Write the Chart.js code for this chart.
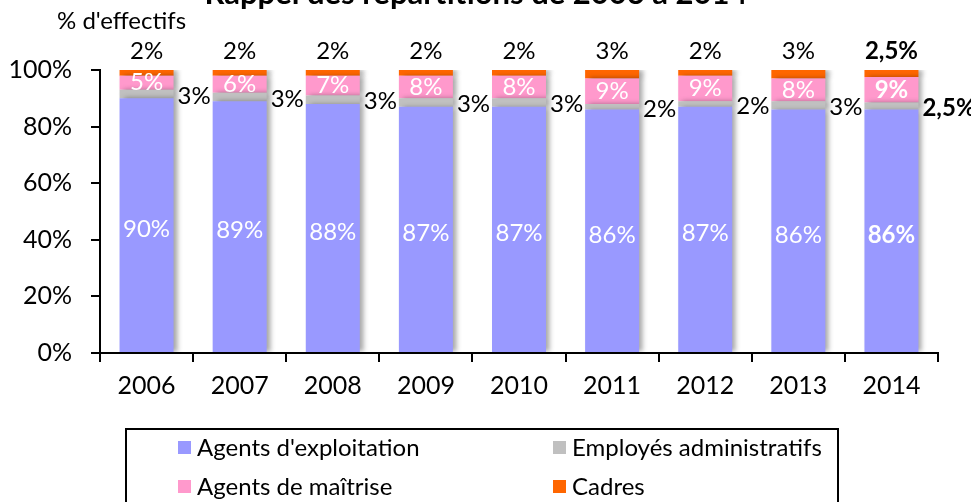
<!DOCTYPE html>
<html>
<head>
<meta charset="utf-8">
<script src="https://cdn.jsdelivr.net/npm/chart.js@4/dist/chart.umd.min.js"></script>
<style>
  body { margin: 0; background: #fff; }
  #wrap { width: 971px; height: 502px; position: relative; }
</style>
</head>
<body>
<div id="wrap"><canvas id="chart" width="971" height="502"></canvas></div>
<script>
// chart values (in %)
const years = ["2006", "2007", "2008", "2009", "2010", "2011", "2012", "2013", "2014"];
const agentsExploitation = [90, 89, 88, 87, 87, 86, 87, 86, 86];
const employesAdmin = [3, 3, 3, 3, 3, 2, 2, 3, 2.5];
const agentsMaitrise = [5, 6, 7, 8, 8, 9, 9, 8, 9];
const cadres = [2, 2, 2, 2, 2, 3, 2, 3, 2.5];
const yTicks = [0, 20, 40, 60, 80, 100];

const FONT = "Lato, 'Open Sans', sans-serif";

const fmt = (v) => String(v).replace(".", ",") + "%";

// soft shadow on the right side of the bars
const shadowPlugin = {
  id: "barShadow",
  beforeDatasetsDraw(chart) {
    const ctx = chart.ctx;
    ctx.save();
    ctx.shadowColor = "rgba(0,0,0,0.35)";
    ctx.shadowBlur = 5;
    ctx.shadowOffsetX = 4;
    ctx.shadowOffsetY = 0;
  },
  afterDatasetsDraw(chart) {
    chart.ctx.restore();
  },
};

// value labels, title, legend box
const decoPlugin = {
  id: "deco",
  afterDraw(chart) {
    const ctx = chart.ctx;
    const last = years.length - 1;
    ctx.save();
    ctx.textBaseline = "middle";

    chart.data.datasets.forEach((ds, di) => {
      const meta = chart.getDatasetMeta(di);
      meta.data.forEach((bar, i) => {
        const w = i === last ? "bold " : "";
        const txt = fmt(ds.data[i]);
        const top = bar.y, bottom = bar.base;
        const mid = (top + bottom) / 2;
        ctx.font = w + "24px " + FONT;
        if (di === 0) {
          ctx.fillStyle = "#ffffff";
          ctx.textAlign = "center";
          ctx.fillText(txt, bar.x, mid + 4);
        } else if (di === 1) {
          ctx.fillStyle = "#000000";
          ctx.textAlign = "left";
          ctx.fillText(txt, bar.x + bar.width / 2 + 4, mid + 2);
        } else if (di === 2) {
          ctx.fillStyle = "#ffffff";
          ctx.textAlign = "center";
          ctx.fillText(txt, bar.x, mid);
        } else {
          ctx.fillStyle = "#000000";
          ctx.textAlign = "center";
          ctx.fillText(txt, bar.x, top - 19);
        }
      });
    });

    // title (cut off at the top in the original)
    ctx.fillStyle = "#000";
    ctx.textAlign = "center";
    ctx.textBaseline = "alphabetic";
    ctx.font = "bold 31px " + FONT;
    ctx.fillText("Rappel des répartitions de 2006 à 2014", 476, 4);

    // y axis title
    ctx.textAlign = "left";
    ctx.textBaseline = "middle";
    ctx.font = "24px " + FONT;
    ctx.fillText("% d'effectifs", 57, 21);

    // legend
    ctx.strokeStyle = "#000";
    ctx.lineWidth = 2;
    ctx.strokeRect(126, 429, 712, 90);
    const pos = [[178, 447], [553, 447], [178, 486], [553, 486]];
    ctx.font = "24px " + FONT;
    chart.data.datasets.forEach((ds, di) => {
      const [x, y] = pos[di];
      ctx.fillStyle = ds.backgroundColor;
      ctx.fillRect(x, y - 6, 13, 13);
      ctx.fillStyle = "#000";
      ctx.fillText(ds.label, x + 19, y + 1);
    });
    ctx.restore();
  },
};

new Chart(document.getElementById("chart"), {
  type: "bar",
  data: {
    labels: years,
    datasets: [
      { label: "Agents d'exploitation", data: agentsExploitation, backgroundColor: "#9999FF" },
      { label: "Employés administratifs", data: employesAdmin, backgroundColor: "#C0C0C0" },
      { label: "Agents de maîtrise", data: agentsMaitrise, backgroundColor: "#FF99CC" },
      { label: "Cadres", data: cadres, backgroundColor: "#FF6600" },
    ],
  },
  options: {
    responsive: false,
    animation: false,
    layout: { padding: { top: 70, right: 33, left: 0, bottom: 0 } },
    datasets: { bar: { categoryPercentage: 1, barPercentage: 0.58, borderWidth: 0 } },
    plugins: { legend: { display: false }, tooltip: { enabled: false } },
    scales: {
      x: {
        stacked: true,
        offset: true,
        border: { color: "#000", width: 2 },
        grid: { offset: true, drawOnChartArea: false, drawTicks: true, tickLength: 9, color: "#000", lineWidth: 2 },
        ticks: { color: "#000", font: { family: FONT, size: 25 }, padding: 9 },
        afterFit(scale) { scale.height = 149; },
      },
      y: {
        stacked: true,
        min: 0,
        max: 100,
        border: { color: "#000", width: 2 },
        grid: { drawOnChartArea: false, drawTicks: true, tickLength: 9, color: "#000", lineWidth: 2 },
        afterBuildTicks(scale) { scale.ticks = yTicks.map((v) => ({ value: v })); },
        ticks: {
          color: "#000",
          font: { family: FONT, size: 25 },
          padding: 19,
          callback: (v) => v + "%",
        },
        afterFit(scale) { scale.width = 100; },
      },
    },
  },
  plugins: [shadowPlugin, decoPlugin],
});
</script>
</body>
</html>
